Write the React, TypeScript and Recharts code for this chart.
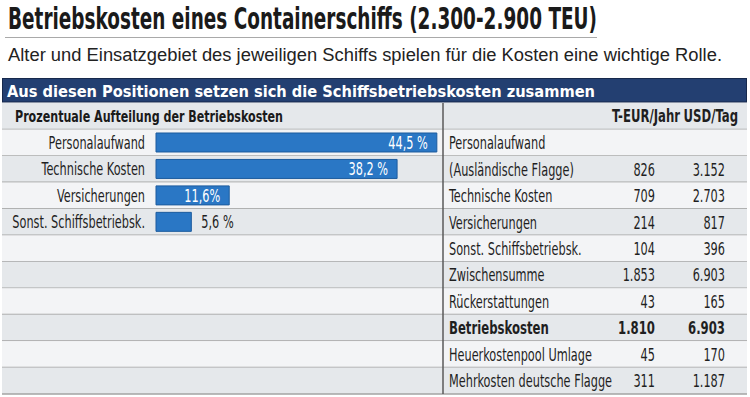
import * as React from "react";
import { BarChart, Bar, XAxis, YAxis, LabelList } from "recharts";

const TITLE = "Betriebskosten eines Containerschiffs (2.300-2.900 TEU)";
const SUBTITLE =
  "Alter und Einsatzgebiet des jeweiligen Schiffs spielen für die Kosten eine wichtige Rolle.";
const BANNER = "Aus diesen Positionen setzen sich die Schiffsbetriebskosten zusammen";
const CHART_HEADING = "Prozentuale Aufteilung der Betriebskosten";

// bar chart
const barCategories = ["Personalaufwand", "Technische Kosten", "Versicherungen", "Sonst. Schiffsbetriebsk."];
const barShares = [44.5, 38.2, 11.6, 5.6];
const barLabels = ["44,5 %", "38,2 %", "11,6%", "5,6 %"];

// table
const tableHeaders = ["T-EUR/Jahr", "USD/Tag"];
const tableItems = [
  "Personalaufwand",
  "(Ausländische Flagge)",
  "Technische Kosten",
  "Versicherungen",
  "Sonst. Schiffsbetriebsk.",
  "Zwischensumme",
  "Rückerstattungen",
  "Betriebskosten",
  "Heuerkostenpool Umlage",
  "Mehrkosten deutsche Flagge",
];
const eurValues = ["", "826", "709", "214", "104", "1.853", "43", "1.810", "45", "311"];
const usdValues = ["", "3.152", "2.703", "817", "396", "6.903", "165", "6.903", "170", "1.187"];
const boldItems = ["Betriebskosten"];

const COND = '"DejaVu Sans Condensed", "DejaVu Sans", sans-serif';
const REG = '"Liberation Sans", Arial, sans-serif';

const ROW_TOP = 103;
const ROW_H = 26.45;
const DIVIDER_X = 443;
const RIGHT_EDGE = 747;
const DARK = "#e5e8eb";
const LIGHT = "#f3f4f6";
const FS = 17;
const TEXT = "#1f1f1f";

const barData = barCategories.map((name, i) => ({
  name,
  share: barShares[i],
  label: barLabels[i],
}));

// condensed text: squeeze the glyphs horizontally
function SText(props: {
  x: number;
  y: number;
  anchor?: "start" | "end" | "middle";
  bold?: boolean;
  fill?: string;
  size?: number;
  children: React.ReactNode;
}) {
  const { x, y, anchor = "start", bold = false, fill = TEXT, size = FS, children } = props;
  const sx = bold ? 0.765 : 0.74;
  return (
    <text
      transform={`translate(${x},${y}) scale(${sx},1)`}
      textAnchor={anchor}
      fontFamily={COND}
      fontWeight={bold ? "bold" : "normal"}
      fontSize={size}
      fill={fill}
    >
      {children}
    </text>
  );
}

function CategoryTick(props: any) {
  const { x, y, payload } = props;
  return (
    <SText x={x} y={y + 6.5} anchor="end">
      {payload.value}
    </SText>
  );
}

function BarValueLabel(props: any) {
  const { x, y, width, height, index } = props;
  const inside = barShares[index] >= 10;
  return (
    <SText
      x={inside ? x + width - 9 : x + width + 10}
      y={y + height / 2 + 6.5}
      anchor={inside ? "end" : "start"}
      fill={inside ? "#ffffff" : TEXT}
    >
      {barLabels[index]}
    </SText>
  );
}

function Table() {
  const rows = tableItems.length + 1;
  const baseOf = (i: number) => ROW_TOP + i * ROW_H + ROW_H / 2 + 6.5;
  return (
    <svg width={750} height={397} style={{ position: "absolute", left: 0, top: 0 }}>
      {/* title */}
      <text x={8} y={29} fontFamily={COND} fontWeight="bold" fontSize={30} fill="#1a1a1a" textLength={589} lengthAdjust="spacingAndGlyphs">
        {TITLE}
      </text>
      <line x1={5} x2={597} y1={37.5} y2={37.5} stroke="#a9a9a9" strokeWidth={1} />
      <text x={8} y={61} fontFamily={REG} fontSize={18} fill="#222" textLength={714} lengthAdjust="spacingAndGlyphs">
        {SUBTITLE}
      </text>

      {/* banner */}
      <rect x={2.5} y={78.5} width={744} height={23.5} fill="#233f71" stroke="#17294c" strokeWidth={1} />
      <text x={7} y={97} fontFamily={COND} fontWeight="bold" fontSize={16.5} fill="#fff" textLength={588} lengthAdjust="spacingAndGlyphs">
        {BANNER}
      </text>

      {/* row backgrounds */}
      {Array.from({ length: rows }).map((_, i) => {
        const top = ROW_TOP + i * ROW_H;
        return (
          <g key={i}>
            <rect x={2} y={top} width={RIGHT_EDGE - 2} height={ROW_H} fill={i % 2 === 0 ? DARK : LIGHT} />
            <line x1={2} x2={RIGHT_EDGE} y1={top + ROW_H} y2={top + ROW_H} stroke="#a3a3a3" strokeWidth={1.5} />
          </g>
        );
      })}
      <line x1={DIVIDER_X} x2={DIVIDER_X} y1={ROW_TOP} y2={ROW_TOP + rows * ROW_H} stroke="#5a5a5a" strokeWidth={1.5} />

      {/* headings */}
      <text x={15} y={baseOf(0) - 1} fontFamily={COND} fontWeight="bold" fontSize={16} fill="#1a1a1a" textLength={268} lengthAdjust="spacingAndGlyphs">
        {CHART_HEADING}
      </text>
      <SText x={680} y={baseOf(0) - 1} anchor="end" bold>
        {tableHeaders[0]}
      </SText>
      <SText x={738} y={baseOf(0) - 1} anchor="end" bold>
        {tableHeaders[1]}
      </SText>

      {/* table body */}
      {tableItems.map((item, i) => {
        const base = baseOf(i + 1);
        const bold = boldItems.includes(item);
        return (
          <g key={item}>
            <SText x={449} y={base} bold={bold}>
              {item}
            </SText>
            <SText x={655} y={base} anchor="end" bold={bold}>
              {eurValues[i]}
            </SText>
            <SText x={725} y={base} anchor="end" bold={bold}>
              {usdValues[i]}
            </SText>
          </g>
        );
      })}
    </svg>
  );
}

export default function App() {
  return (
    <div
      style={{
        position: "absolute",
        left: 0,
        top: 0,
        width: 750,
        height: 397,
        background: "#fff",
        overflow: "hidden",
      }}
    >
      <Table />
      <div style={{ position: "absolute", left: 0, top: ROW_TOP + ROW_H }}>
        <BarChart
          width={440}
          height={ROW_H * 4}
          data={barData}
          layout="vertical"
          margin={{ top: 0, right: 0, bottom: 0, left: 0 }}
        >
          <XAxis type="number" domain={[0, 45]} hide />
          <YAxis
            type="category"
            dataKey="name"
            width={156}
            axisLine={false}
            tickLine={false}
            tickSize={0}
            tickMargin={11}
            tick={<CategoryTick />}
          />
          <Bar
            dataKey="share"
            fill="#2a77c5"
            stroke="#1c5b9e"
            strokeWidth={1}
            barSize={19}
            isAnimationActive={false}
          >
            <LabelList dataKey="label" content={<BarValueLabel />} />
          </Bar>
        </BarChart>
      </div>
    </div>
  );
}
